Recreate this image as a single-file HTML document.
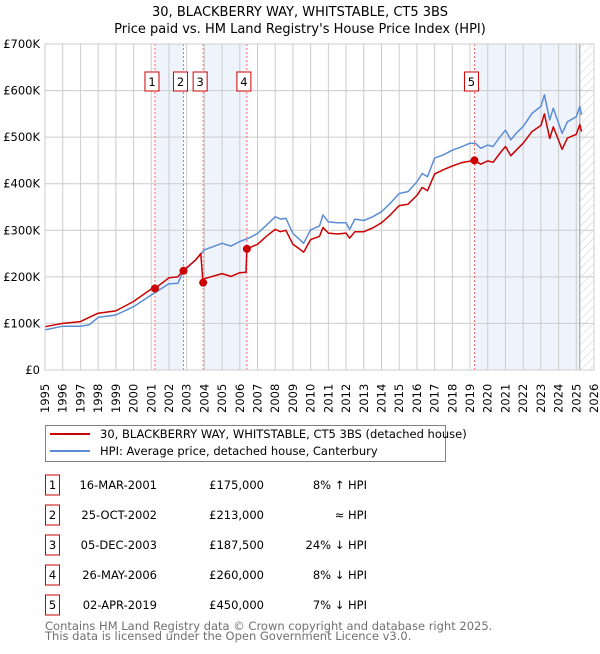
<!DOCTYPE html>
<html><head><meta charset="utf-8">
<style>
body{margin:0;background:#fff;font-family:"DejaVu Sans","Liberation Sans",sans-serif;}
svg text{font-family:"DejaVu Sans","Liberation Sans",sans-serif;}
</style></head>
<body>
<svg id="chart" width="600" height="650" viewBox="0 0 600 650" xmlns="http://www.w3.org/2000/svg">
<text x="300" y="16" text-anchor="middle" font-size="13" fill="#000">30, BLACKBERRY WAY, WHITSTABLE, CT5 3BS</text>
<text x="300" y="33" text-anchor="middle" font-size="13" fill="#000">Price paid vs. HM Land Registry's House Price Index (HPI)</text>
<defs><pattern id="hatch" width="6" height="6" patternUnits="userSpaceOnUse" patternTransform="rotate(45)"><line x1="0" y1="0" x2="0" y2="6" stroke="#ccc" stroke-width="1"/></pattern></defs>
<g id="plot"></g>
<g>
<rect x="45.5" y="425.5" width="400" height="36" fill="#fff" stroke="#808080"/>
<line x1="50" y1="434" x2="90" y2="434" stroke="#cc0000" stroke-width="2"/>
<text x="100" y="438" font-size="11.5">30, BLACKBERRY WAY, WHITSTABLE, CT5 3BS (detached house)</text>
<line x1="50" y1="451" x2="90" y2="451" stroke="#5b8dd6" stroke-width="2"/>
<text x="100" y="455" font-size="11.5">HPI: Average price, detached house, Canterbury</text>
</g>
<g id="table" font-size="11.5"></g>
<text x="45" y="630" font-size="11.5" fill="#707070">Contains HM Land Registry data © Crown copyright and database right 2025.</text>
<text x="45" y="640" font-size="11.5" fill="#707070">This data is licensed under the Open Government Licence v3.0.</text>
</svg>
<script>
const hpiDates=[1995,1996,1997,1997.5,1998,1999,2000,2001,2002,2002.5,2002.8,2003.5,2004,2005,2005.5,2006,2006.5,2007,2007.5,2008,2008.3,2008.6,2009,2009.3,2009.6,2010,2010.5,2010.7,2011,2011.5,2012,2012.2,2012.5,2013,2013.5,2014,2014.5,2015,2015.5,2016,2016.3,2016.6,2017,2017.5,2018,2018.5,2019,2019.3,2019.6,2020,2020.3,2020.7,2021,2021.3,2021.6,2022,2022.5,2023,2023.2,2023.5,2023.7,2024,2024.2,2024.5,2025,2025.2,2025.3];
const hpiValues=[86,94,94,97,113,118,136,161,185,186,211,236,258,272,266,276,283,293,311,329,324,326,293,283,272,301,309,333,318,316,316,302,324,321,329,340,358,379,383,404,422,415,455,462,472,479,487,487,476,483,480,501,515,494,508,523,551,566,591,537,562,530,508,533,544,566,548];
const priceDates=[1995,1996,1997,1998,1999,2000,2001,2001.2,2002,2002.5,2002.8,2003.5,2003.8,2003.92,2004,2005,2005.5,2006,2006.35,2006.4,2006.5,2007,2007.5,2008,2008.3,2008.6,2009,2009.3,2009.6,2010,2010.5,2010.7,2011,2011.5,2012,2012.2,2012.5,2013,2013.5,2014,2014.5,2015,2015.5,2016,2016.3,2016.6,2017,2017.5,2018,2018.5,2019.25,2019.6,2020,2020.3,2020.7,2021,2021.3,2021.6,2022,2022.5,2023,2023.2,2023.5,2023.7,2024,2024.2,2024.5,2025,2025.2,2025.3];
const priceValues=[93,100,104,122,127,147,174,175,198,200,213,236,250,187.5,196,207,201,209,210,260,262,270,287,302,297,300,270,262,253,280,287,306,294,292,294,283,297,297,305,316,333,353,356,375,392,385,421,430,438,445,450,442,449,446,466,480,460,472,487,512,525,550,497,522,493,474,498,506,527,512];
const saleDates=[2001.21,2002.82,2003.93,2006.4,2019.25];
const saleValues=[175,213,187.5,260,450];
const saleLabels=["1","2","3","4","5"];
const saleDateText=["16-MAR-2001","25-OCT-2002","05-DEC-2003","26-MAY-2006","02-APR-2019"];
const salePriceText=["£175,000","£213,000","£187,500","£260,000","£450,000"];
const saleHpiText=["8% ↑ HPI","≈ HPI","24% ↓ HPI","8% ↓ HPI","7% ↓ HPI"];
const yTicks=[0,100,200,300,400,500,600,700];
const yTickLabels=["£0","£100K","£200K","£300K","£400K","£500K","£600K","£700K"];
const xTicks=[1995,1996,1997,1998,1999,2000,2001,2002,2003,2004,2005,2006,2007,2008,2009,2010,2011,2012,2013,2014,2015,2016,2017,2018,2019,2020,2021,2022,2023,2024,2025,2026];

const NS="http://www.w3.org/2000/svg";
const L=45,R=594,T=44,B=370;
const xs=y=>L+(y-1995)/31*(R-L);
const ys=v=>B-v/700*(B-T);
const plot=document.getElementById('plot');
function mk(tag,attrs,parent){const e=document.createElementNS(NS,tag);for(const k in attrs)e.setAttribute(k,attrs[k]);(parent||plot).appendChild(e);return e;}

// shaded bands between sales
const bandPairs=[[0,1],[2,3]];
bandPairs.forEach(p=>{const b=mk('rect',{x:xs(saleDates[p[0]]),y:T,width:xs(saleDates[p[1]])-xs(saleDates[p[0]]),height:B-T,fill:'#eef3fc'});

});
const b5=mk('rect',{x:xs(saleDates[4]),y:T,width:xs(2025.2)-xs(saleDates[4]),height:B-T,fill:'#eef3fc'});


const hz=mk('rect',{x:xs(2025.2),y:T,width:R-xs(2025.2),height:B-T,fill:'url(#hatch)'});



// grid
xTicks.forEach(t=>{const g=mk('line',{x1:xs(t),x2:xs(t),y1:T,y2:B,stroke:'#cccccc','stroke-width':1});


const tx=mk('text',{x:0,y:0,'font-size':11.5,transform:`translate(${xs(t)+4},${B+43}) rotate(-90)`});
tx.textContent=t;

});
yTicks.forEach((t,i)=>{const g=mk('line',{x1:L,x2:R,y1:ys(t),y2:ys(t),stroke:'#cccccc','stroke-width':1});


const tx=mk('text',{x:L-5,y:ys(t)+4,'font-size':11.5,'text-anchor':'end'});
tx.textContent=yTickLabels[i];

});
const vl=mk('line',{x1:xs(2025.2),x2:xs(2025.2),y1:T,y2:B,stroke:'#999','stroke-width':1});



// sale markers lines & labels
saleDates.forEach((d,i)=>{const l=mk('line',{x1:xs(d),x2:xs(d),y1:T,y2:B,stroke:'#ff6666','stroke-width':1,'stroke-dasharray':'2,2'});


const bx=mk('rect',{x:xs(d)-10,y:72,width:14,height:19,fill:'#fff',stroke:'#cc0000'});


const t=mk('text',{x:xs(d)-3,y:86,'font-size':11.5,'text-anchor':'middle'});
t.textContent=saleLabels[i];

});

function path(dates,vals){return dates.map((d,i)=>(i?'L':'M')+xs(d).toFixed(1)+','+ys(vals[i]).toFixed(1)).join('');}
const hp=mk('path',{d:path(hpiDates,hpiValues),fill:'none',stroke:'#5b8dd6','stroke-width':1.5,'stroke-linejoin':'round'});


const pp=mk('path',{d:path(priceDates,priceValues),fill:'none',stroke:'#cc0000','stroke-width':1.5,'stroke-linejoin':'round'});


saleDates.forEach((d,i)=>{const c=mk('circle',{cx:xs(d),cy:ys(saleValues[i]),r:4,fill:'#cc0000'});

});
const fr=mk('rect',{x:L,y:T,width:R-L,height:B-T,fill:'none',stroke:'#cccccc'});



// table
const tbl=document.getElementById('table');
saleDates.forEach((d,i)=>{const cy=485+i*30;
const bx=mk('rect',{x:45.5,y:cy-10,width:14,height:20,fill:'#fff',stroke:'#cc0000'},tbl);


const n=mk('text',{x:52.5,y:cy+4,'text-anchor':'middle'},tbl);n.textContent=saleLabels[i];


const a=mk('text',{x:157,y:cy+4,'text-anchor':'end'},tbl);a.textContent=saleDateText[i];


const b=mk('text',{x:264,y:cy+4,'text-anchor':'end'},tbl);b.textContent=salePriceText[i];


const c=mk('text',{x:367,y:cy+4,'text-anchor':'end'},tbl);c.textContent=saleHpiText[i];

});
</script>
</body></html>
